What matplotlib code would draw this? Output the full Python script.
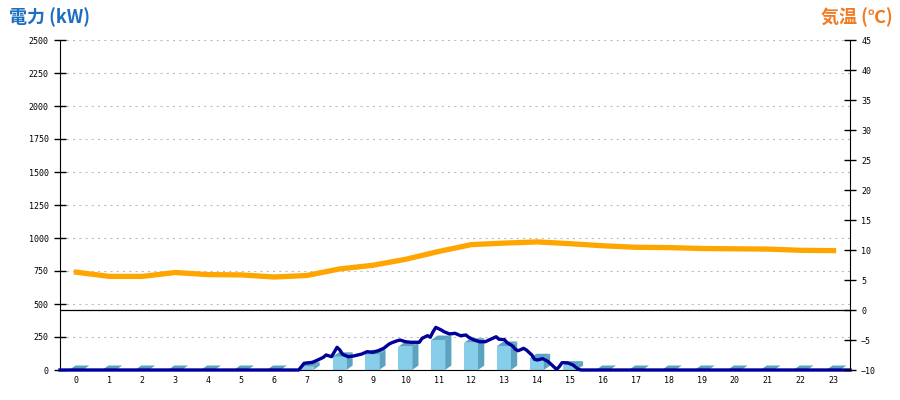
import matplotlib
matplotlib.use('Agg')
import matplotlib.pyplot as plt
from matplotlib.patches import Polygon
import numpy as np

plt.rcParams['lines.scale_dashes'] = False

# hourly energy (kW) per hour slot 0..23
hours = list(range(24))
hourly_kw = [0, 0, 0, 0, 0, 0, 0, 25, 100, 119, 177, 227,
             207, 182, 89, 33, 0, 0, 0, 0, 0, 0, 0, 0]

# instantaneous power (kW)
power_times = ["00:00", "07:15", "07:20", "07:25", "07:40", "07:50", "08:00", "08:05",
               "08:15", "08:25", "08:30", "08:35", "08:45", "08:55", "09:10", "09:20",
               "09:30", "09:40", "09:50", "10:00", "10:05", "10:15", "10:20", "10:30",
               "10:40", "10:55", "11:00", "11:10", "11:15", "11:20", "11:25", "11:35",
               "11:40", "11:50", "12:00", "12:10", "12:20", "12:25", "12:35", "12:45",
               "12:55", "13:05", "13:15", "13:20", "13:30", "13:35", "13:45", "13:50",
               "13:55", "14:05", "14:10", "14:20", "14:25", "14:30", "14:40", "14:50",
               "15:00", "15:05", "15:10", "15:15", "15:25", "15:35", "15:45", "15:50",
               "24:00"]
power_kw = [0, 0, 25, 51, 58, 76, 96, 114,
            101, 172, 152, 119, 101, 106, 121, 139,
            134, 146, 164, 197, 207, 222, 227, 214,
            210, 210, 240, 260, 248, 290, 323, 303,
            290, 273, 278, 260, 265, 248, 227, 214,
            214, 233, 252, 233, 230, 207, 182, 157,
            146, 164, 152, 114, 81, 76, 86, 63,
            25, 5, 25, 55, 55, 38, 5, 0,
            0]

# temperature (deg C) per hour
temp_c = [6.3, 5.6, 5.6, 6.25, 5.9, 5.85, 5.5, 5.75, 6.85, 7.45, 8.45, 9.75,
          10.9, 11.15, 11.35, 11.05, 10.7, 10.45, 10.4, 10.25, 10.2, 10.15, 9.95, 9.9]

power_t = [int(s[:2]) + int(s[3:]) / 60 for s in power_times]
xc = np.array(hours) + 0.5

fig = plt.figure(figsize=(9, 4), dpi=100)
ax = fig.add_axes([60 / 900, 30 / 400, 790 / 900, 330 / 400])
ax2 = ax.twinx()

ax.set_xlim(0, 24)
ax.set_ylim(0, 2500)
ax2.set_ylim(-10, 45)

# 3D-ish bars
front_c = '#87CEEB'
side_c = '#5BA3C0'
w = 0.42
dx, dy = 0.19, 34
ax.bar(xc - 0.01, hourly_kw, width=w, color=front_c, linewidth=0, zorder=2)
for c, v in zip(xc, hourly_kw):
    l, r = c - 0.01 - w / 2, c - 0.01 + w / 2
    ax.add_patch(Polygon([(r, 0), (r + dx, dy), (r + dx, v + dy), (r, v)],
                         closed=True, facecolor=side_c, edgecolor='none', zorder=2))
    ax.add_patch(Polygon([(l, v), (r, v), (r + dx, v + dy), (l + dx, v + dy)],
                         closed=True, facecolor=side_c, edgecolor='none', zorder=2))

ax.plot(power_t, power_kw, color='#000099', lw=2.4, zorder=4, clip_on=False)

ax2.axhline(0, color='black', lw=0.9, zorder=1)
ax2.plot(xc, temp_c, color='#FFA500', lw=3.8, zorder=3)

ax.set_yticks(range(0, 2501, 250))
ax.yaxis.grid(True, color='#bbbbbb', linestyle=(0, (1.5, 3)), lw=0.8)
ax.set_axisbelow(True)
ax2.set_yticks(range(-10, 46, 5))

ax.set_xticks(xc)
ax.set_xticklabels([str(h) for h in hours])

tick_font = {'family': 'DejaVu Sans Mono', 'size': 6}
for lab in ax.get_xticklabels() + ax.get_yticklabels() + ax2.get_yticklabels():
    lab.set_fontfamily('DejaVu Sans Mono')
    lab.set_fontsize(6)

ax.tick_params(axis='x', length=0, pad=4)
ax.tick_params(axis='y', direction='inout', length=8, width=1, pad=4)
ax2.tick_params(axis='y', direction='inout', length=8, width=1, pad=4)

for a in (ax, ax2):
    a.spines['top'].set_visible(False)
ax2.spines['bottom'].set_visible(False)
ax2.spines['left'].set_visible(False)
ax.spines['right'].set_visible(False)

fig.text(9 / 900, 1 - 17 / 400, '電力 (kW)', ha='left', va='center', fontsize=13,
         fontweight='bold', color='#1f6fbf', family=['Noto Sans CJK JP', 'DejaVu Sans'])
fig.text(893 / 900, 1 - 17 / 400, '気温 (℃)', ha='right', va='center', fontsize=13,
         fontweight='bold', color='#f07b23', family=['Noto Sans CJK JP', 'DejaVu Sans'])

fig.savefig('out.png', dpi=100)
